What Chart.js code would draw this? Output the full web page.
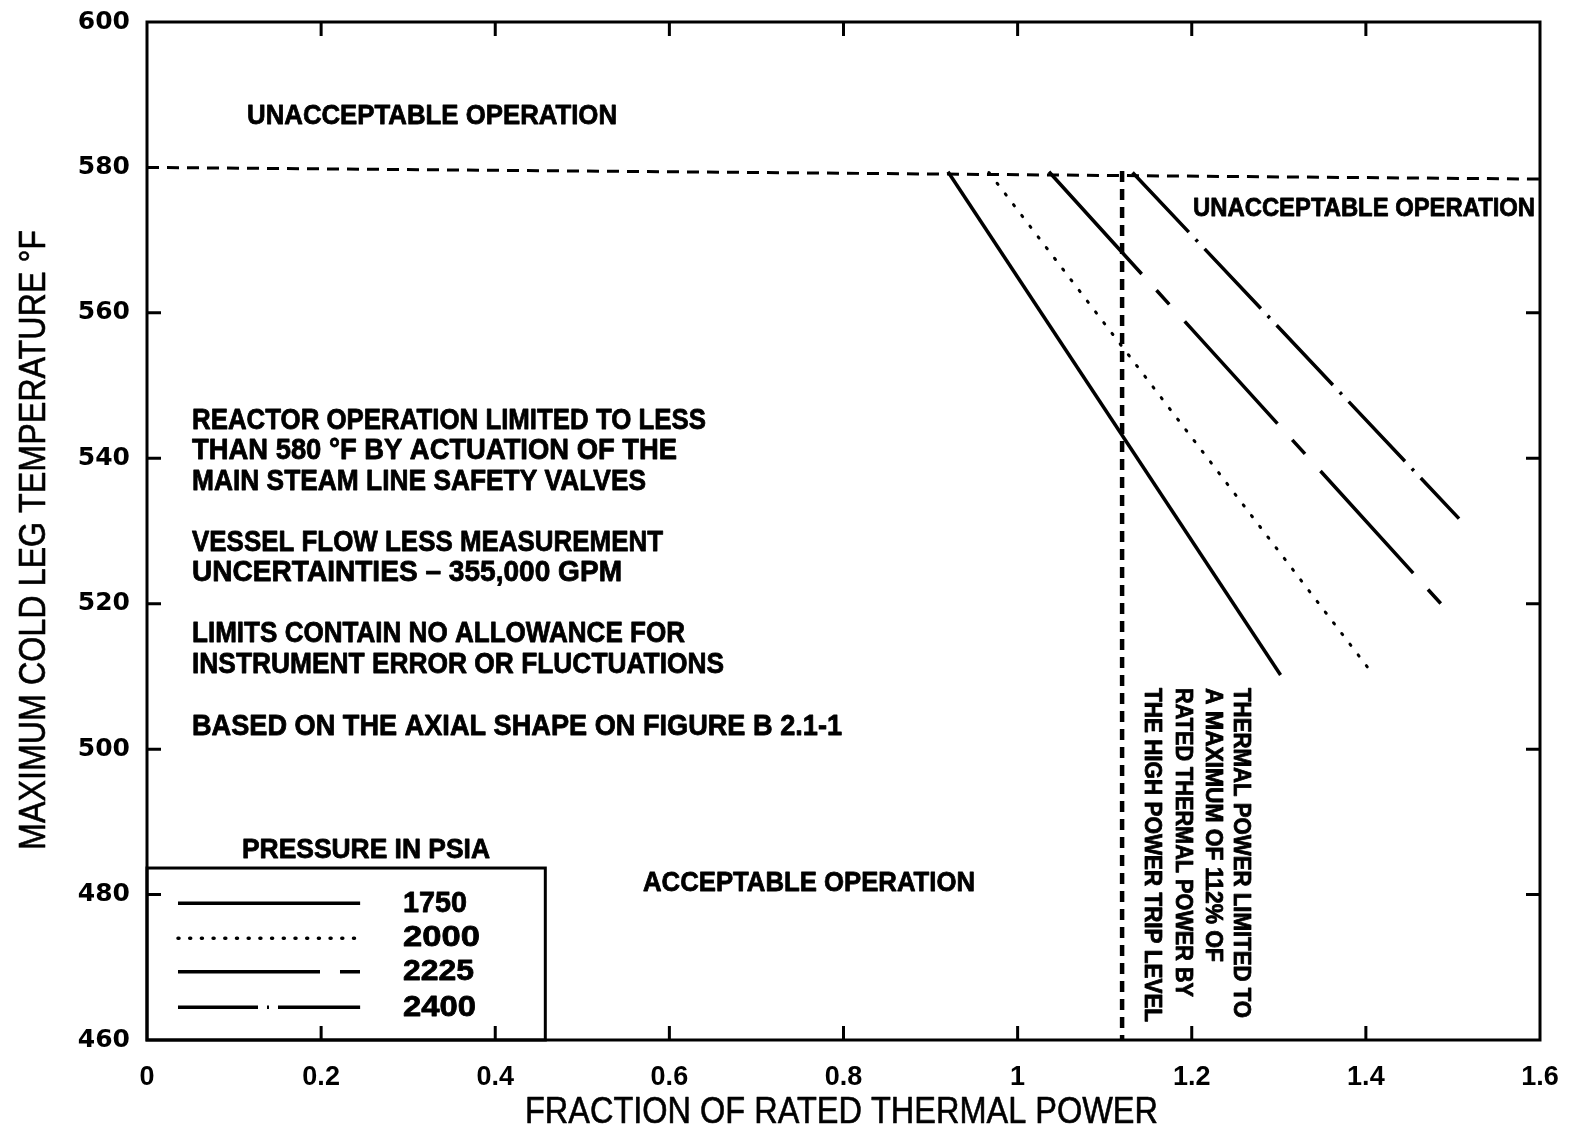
<!DOCTYPE html>
<html>
<head>
<meta charset="utf-8">
<script src="https://cdn.jsdelivr.net/npm/chart.js@4.4.1/dist/chart.umd.min.js"></script>
<style>
  html, body { margin: 0; padding: 0; background: #fff; }
  canvas { display: block; }
</style>
</head>
<body>
<canvas id="chart" width="1570" height="1137"></canvas>
<script>
// --- data ---
const xTicks = [0, 0.2, 0.4, 0.6, 0.8, 1, 1.2, 1.4, 1.6];
const yTicks = [460, 480, 500, 520, 540, 560, 580, 600];

const pressures = ['1750', '2000', '2225', '2400'];
// each limit line: [top point, bottom point]
const line1750 = [{ x: 0.920, y: 579.4 }, { x: 1.302, y: 510.2 }];
const line2000 = [{ x: 0.967, y: 579.3 }, { x: 1.403, y: 511.1 }];
const line2225 = [{ x: 1.036, y: 579.4 }, { x: 1.490, y: 519.5 }];
const line2400 = [{ x: 1.132, y: 579.3 }, { x: 1.507, y: 531.7 }];

const tempLimit = [{ x: 0, y: 580 }, { x: 1.6, y: 578.4 }];   // 580 °F relief valve limit
const powerTrip = [{ x: 1.12, y: 579.5 }, { x: 1.12, y: 460 }]; // 112% high power trip

// --- text ---
const textFont = '"Liberation Sans", Arial, sans-serif';
const notes = [
    { t: 'UNACCEPTABLE OPERATION', x: 0.1149, y: 587.1, w: 370, size: 28 },
    { t: 'UNACCEPTABLE OPERATION', x: 1.2015, y: 574.3, w: 342, size: 26 },
    { t: 'REACTOR OPERATION LIMITED TO LESS', x: 0.0517, y: 545.1, w: 514, size: 29 },
    { t: 'THAN 580 °F BY ACTUATION OF THE', x: 0.0517, y: 541.0, w: 485, size: 29 },
    { t: 'MAIN STEAM LINE SAFETY VALVES', x: 0.0517, y: 536.7, w: 454, size: 29 },
    { t: 'VESSEL FLOW LESS MEASUREMENT', x: 0.0517, y: 528.35, w: 471, size: 29 },
    { t: 'UNCERTAINTIES – 355,000 GPM', x: 0.0517, y: 524.2, w: 430, size: 29 },
    { t: 'LIMITS CONTAIN NO ALLOWANCE FOR', x: 0.0517, y: 515.8, w: 493, size: 29 },
    { t: 'INSTRUMENT ERROR OR FLUCTUATIONS', x: 0.0517, y: 511.6, w: 532, size: 29 },
    { t: 'BASED ON THE AXIAL SHAPE ON FIGURE B 2.1-1', x: 0.0517, y: 503.0, w: 650, size: 29 },
    { t: 'ACCEPTABLE OPERATION', x: 0.5697, y: 481.6, w: 332, size: 28 },
    { t: 'PRESSURE IN PSIA', x: 0.1091, y: 486.1, w: 248, size: 27 }
];
const tripNote = [
    { t: 'THERMAL POWER LIMITED TO', x: 1.2555, w: 330 },
    { t: 'A MAXIMUM OF 112% OF', x: 1.2233, w: 274 },
    { t: 'RATED THERMAL POWER BY', x: 1.1888, w: 309 },
    { t: 'THE HIGH POWER TRIP LEVEL', x: 1.1532, w: 334 }
];
const tripNoteTop = 508.4;

function fitText(ctx, text, x, y, width, font, heavy) {
    ctx.save();
    ctx.font = font;
    const s = width / ctx.measureText(text).width;
    ctx.translate(x, y);
    ctx.scale(s, 1);
    ctx.textAlign = 'left';
    ctx.textBaseline = 'middle';
    ctx.fillText(text, 0, 0);
    if (heavy) {
        ctx.lineWidth = heavy;
        ctx.lineJoin = 'round';
        ctx.strokeText(text, 0, 0);
    }
    ctx.restore();
}

// frame, inward ticks, notes, legend box, axis titles
const decor = {
    id: 'decor',
    afterDraw(chart) {
        const { ctx, chartArea: a, scales: { x, y } } = chart;
        ctx.save();
        ctx.strokeStyle = '#000';
        ctx.fillStyle = '#000';
        ctx.lineWidth = 3;
        ctx.strokeRect(a.left, a.top, a.right - a.left, a.bottom - a.top);

        ctx.beginPath();
        xTicks.slice(1, -1).forEach(v => {
            const px = x.getPixelForValue(v);
            ctx.moveTo(px, a.top); ctx.lineTo(px, a.top + 14);
            ctx.moveTo(px, a.bottom); ctx.lineTo(px, a.bottom - 14);
        });
        yTicks.slice(1, -2).forEach(v => {
            const py = y.getPixelForValue(v);
            ctx.moveTo(a.left, py); ctx.lineTo(a.left + 14, py);
            ctx.moveTo(a.right, py); ctx.lineTo(a.right - 14, py);
        });
        ctx.stroke();

        // notes
        notes.forEach(n => {
            fitText(ctx, n.t, x.getPixelForValue(n.x), y.getPixelForValue(n.y), n.w, `bold ${n.size}px ${textFont}`, 0.8);
        });
        tripNote.forEach(n => {
            ctx.save();
            ctx.translate(x.getPixelForValue(n.x), y.getPixelForValue(tripNoteTop));
            ctx.rotate(Math.PI / 2);
            fitText(ctx, n.t, 0, 0, n.w, `bold 23px ${textFont}`, 0.8);
            ctx.restore();
        });

        // legend box
        const bx1 = x.getPixelForValue(0), bx2 = x.getPixelForValue(0.4575);
        const by1 = y.getPixelForValue(483.65), by2 = y.getPixelForValue(460);
        ctx.lineWidth = 3;
        ctx.strokeRect(bx1, by1, bx2 - bx1, by2 - by1);
        const rows = [478.8, 474.0, 469.4, 464.5];
        const samp = [
            { dash: [], w: 3.5, cap: 'butt' },
            { dash: [1, 10.7], w: 3.5, cap: 'round' },
            { dash: [142, 20, 20, 1000], w: 3.5, cap: 'butt' },
            { dash: [80, 9, 2, 9, 1000], w: 3.5, cap: 'butt' }
        ];
        const sx1 = x.getPixelForValue(0.0356), sx2 = x.getPixelForValue(0.2448);
        const lx = x.getPixelForValue(0.294);
        const lw = [64, 77, 71, 73];
        rows.forEach((r, i) => {
            const py = y.getPixelForValue(r);
            ctx.save();
            ctx.lineWidth = samp[i].w;
            ctx.lineCap = samp[i].cap;
            ctx.setLineDash(samp[i].dash);
            ctx.beginPath();
            ctx.moveTo(sx1, py); ctx.lineTo(sx2, py);
            ctx.stroke();
            ctx.restore();
            fitText(ctx, pressures[i], lx, py, lw[i], `bold 30px ${textFont}`, 0.8);
        });

        // axis titles
        ctx.save();
        ctx.translate(35, 540);
        ctx.rotate(-Math.PI / 2);
        fitText(ctx, 'MAXIMUM COLD LEG TEMPERATURE °F', -310, 0, 620, `36px ${textFont}`, 0.6);
        ctx.restore();
        fitText(ctx, 'FRACTION OF RATED THERMAL POWER', 525, 1113, 633, `36px ${textFont}`, 0.6);
        ctx.restore();
    }
};

function lineSet(label, data, width, dash, cap) {
    return {
        label, data, showLine: true, pointRadius: 0,
        borderColor: '#000', borderWidth: width,
        borderDash: dash, borderCapStyle: cap || 'butt', fill: false
    };
}

new Chart(document.getElementById('chart'), {
    type: 'scatter',
    data: {
        datasets: [
            lineSet('580 F limit', tempLimit, 3, [12, 8]),
            lineSet('112% trip', powerTrip, 4.5, [11, 7]),
            lineSet(pressures[0], line1750, 3.5, []),
            lineSet(pressures[1], line2000, 3, [1.5, 12], 'round'),
            lineSet(pressures[2], line2225, 3.5, [138, 22, 19, 23]),
            lineSet(pressures[3], line2400, 3.5, [82, 10, 3, 10])
        ]
    },
    options: {
        responsive: false,
        animation: false,
        layout: { padding: { top: 22, right: 30, left: 0, bottom: 0 } },
        plugins: { legend: { display: false }, tooltip: { enabled: false } },
        scales: {
            x: {
                type: 'linear', min: 0, max: 1.6,
                grid: { display: false, drawTicks: false }, border: { display: false },
                afterFit: s => { s.height = 97; s.paddingLeft = 0; s.paddingRight = 0; },
                afterBuildTicks: s => { s.ticks = xTicks.map(v => ({ value: v })); },
                ticks: {
                    padding: 21, color: '#000',
                    font: { family: 'Liberation Sans', weight: 'bold', size: 27 },
                    callback: v => String(Number(v.toFixed(1)))
                }
            },
            y: {
                type: 'linear', min: 460, max: 600,
                grid: { display: false, drawTicks: false }, border: { display: false },
                afterFit: s => { s.width = 147; s.paddingTop = 0; s.paddingBottom = 0; },
                afterBuildTicks: s => { s.ticks = yTicks.map(v => ({ value: v })); },
                ticks: {
                    padding: 17, color: '#000',
                    font: { family: 'DejaVu Sans', weight: 'bold', size: 25 }
                }
            }
        }
    },
    plugins: [decor]
});
</script>
</body>
</html>
